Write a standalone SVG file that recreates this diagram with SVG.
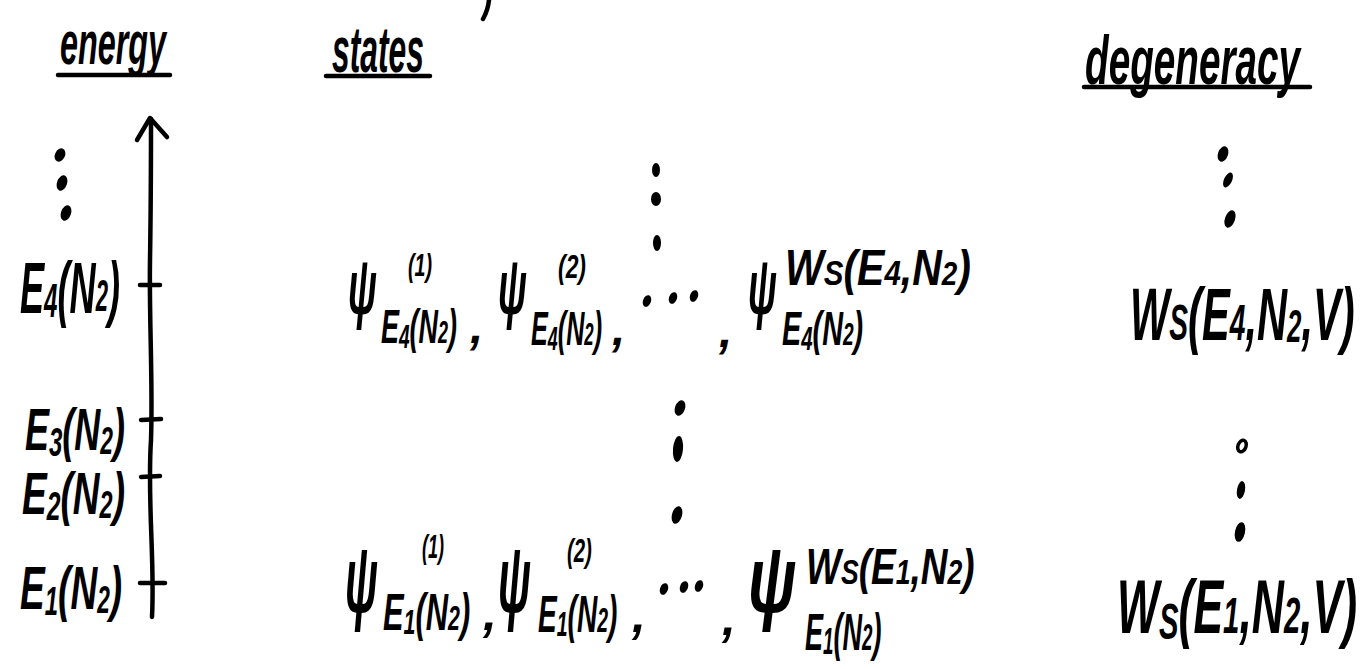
<svg xmlns="http://www.w3.org/2000/svg" width="1364" height="669" viewBox="0 0 1364 669">
<style>
.t{font-family:"Liberation Sans",Arial,sans-serif;font-style:italic;font-weight:bold;fill:#000}
.ln{stroke:#000;stroke-width:4.5;fill:none;stroke-linecap:round;stroke-linejoin:round}
.d{fill:#000}
</style>
<rect width="1364" height="669" fill="#fff"/>

<g id="fragment-top"><path class="ln" d="M489,0 Q488,10 483,19" stroke-width="3.5"/></g>

<g id="head-energy">
<text class="t" transform="translate(60,64) scale(0.522,1)" font-size="62">energy</text>
<line class="ln" x1="58" y1="75" x2="170" y2="75"/>
</g>
<g id="head-states">
<text class="t" transform="translate(332,72) scale(0.497,1)" font-size="64">states</text>
<line class="ln" x1="326" y1="76" x2="430" y2="76"/>
</g>
<g id="head-degeneracy">
<text class="t" transform="translate(1085,84) scale(0.569,1)" font-size="68">degeneracy</text>
<line class="ln" x1="1084" y1="87" x2="1310" y2="87"/>
</g>

<g id="connectors">
<path class="ln" d="M152,617 C155,560 147,500 151,440 C153,380 149,320 150,260 C151,200 151,160 151,119" stroke-width="5"/>
<polyline class="ln" points="137,140 150,118 167,137" stroke-width="5"/>
<line class="ln" x1="140" y1="285" x2="160" y2="285"/>
<line class="ln" x1="141" y1="420" x2="161" y2="419"/>
<line class="ln" x1="141" y1="477" x2="160" y2="476"/>
<line class="ln" x1="140" y1="583" x2="165" y2="583"/>
</g>

<g id="energy-dots">
<ellipse class="d" cx="60" cy="155" rx="5" ry="7" transform="rotate(25 60 155)"/>
<ellipse class="d" cx="62" cy="183" rx="5" ry="8" transform="rotate(20 62 183)"/>
<ellipse class="d" cx="66" cy="213" rx="5" ry="8" transform="rotate(20 66 213)"/>
</g>

<g id="label-E4">
<text class="t" transform="translate(20,313) scale(0.502,1)" font-size="72">E<tspan font-size="48" dy="4">4</tspan><tspan dy="-4">(N</tspan><tspan font-size="44" dy="-2">2</tspan><tspan dy="2">)</tspan></text>
</g>
<g id="label-E3">
<text class="t" transform="translate(25,450) scale(0.6,1)" font-size="60">E<tspan font-size="40" dy="6">3</tspan><tspan dy="-6">(N</tspan><tspan font-size="38" dy="4">2</tspan><tspan dy="-4">)</tspan></text>
</g>
<g id="label-E2">
<text class="t" transform="translate(22,514) scale(0.618,1)" font-size="60">E<tspan font-size="40" dy="6">2</tspan><tspan dy="-6">(N</tspan><tspan font-size="38" dy="4">2</tspan><tspan dy="-4">)</tspan></text>
</g>
<g id="label-E1">
<text class="t" transform="translate(20,609) scale(0.598,1)" font-size="62">E<tspan font-size="40" dy="6">1</tspan><tspan dy="-6">(N</tspan><tspan font-size="38" dy="4">2</tspan><tspan dy="-4">)</tspan></text>
</g>

<g id="states-dots-top">
<ellipse class="d" cx="656" cy="170" rx="4" ry="7"/>
<ellipse class="d" cx="656" cy="199" rx="5" ry="7"/>
<ellipse class="d" cx="657" cy="243" rx="4" ry="8"/>
</g>

<g id="state-E4-1">
<text class="t" transform="translate(348,314) scale(0.48,1)" font-size="78">ψ</text>
<text class="t" transform="translate(408,276) scale(0.614,1)" font-size="32">(1)</text>
<text class="t" transform="translate(381,343) scale(0.562,1)" font-size="48">E<tspan font-size="34" dy="5">4</tspan><tspan dy="-5">(N</tspan><tspan font-size="32">2</tspan>)</text>
<text class="t" x="470" y="343" font-size="48">,</text>
</g>
<g id="state-E4-2">
<text class="t" transform="translate(498,314) scale(0.48,1)" font-size="78">ψ</text>
<text class="t" transform="translate(558,278) scale(0.674,1)" font-size="34">(2)</text>
<text class="t" transform="translate(531,345) scale(0.525,1)" font-size="48">E<tspan font-size="34" dy="5">4</tspan><tspan dy="-5">(N</tspan><tspan font-size="32">2</tspan>)</text>
<text class="t" x="612" y="345" font-size="48">,</text>
</g>
<g id="state-E4-dots">
<ellipse class="d" cx="647" cy="301" rx="4" ry="6" transform="rotate(20 647 301)"/>
<ellipse class="d" cx="673" cy="298" rx="4" ry="6" transform="rotate(20 673 298)"/>
<ellipse class="d" cx="694" cy="296" rx="4" ry="6" transform="rotate(20 694 296)"/>
<text class="t" x="719" y="347" font-size="48">,</text>
</g>
<g id="state-E4-W">
<text class="t" transform="translate(748,314) scale(0.48,1)" font-size="78">ψ</text>
<text class="t" transform="translate(785,285) scale(0.82,1)" font-size="50">W<tspan font-size="36">S</tspan>(E<tspan font-size="36">4</tspan>,N<tspan font-size="34">2</tspan>)</text>
<text class="t" transform="translate(782,345) scale(0.6,1)" font-size="48">E<tspan font-size="34" dy="5">4</tspan><tspan dy="-5">(N</tspan><tspan font-size="32">2</tspan>)</text>
</g>

<g id="states-dots-mid">
<ellipse class="d" cx="680" cy="408" rx="5" ry="8" transform="rotate(20 680 408)"/>
<ellipse class="d" cx="678" cy="449" rx="5" ry="13" transform="rotate(5 678 449)"/>
<ellipse class="d" cx="677" cy="515" rx="5" ry="9" transform="rotate(15 677 515)"/>
</g>

<g id="state-E1-1">
<text class="t" transform="translate(345,612) scale(0.45,1)" font-size="95">ψ</text>
<text class="t" transform="translate(422,558) scale(0.53,1)" font-size="34">(1)</text>
<text class="t" transform="translate(383,630) scale(0.594,1)" font-size="52">E<tspan font-size="36" dy="4">1</tspan><tspan dy="-4">(N</tspan><tspan font-size="36">2</tspan>)</text>
<text class="t" x="483" y="630" font-size="50">,</text>
</g>
<g id="state-E1-2">
<text class="t" transform="translate(498,612) scale(0.45,1)" font-size="95">ψ</text>
<text class="t" transform="translate(567,562) scale(0.6,1)" font-size="34">(2)</text>
<text class="t" transform="translate(538,632) scale(0.54,1)" font-size="52">E<tspan font-size="36" dy="4">1</tspan><tspan dy="-4">(N</tspan><tspan font-size="36">2</tspan>)</text>
<text class="t" x="632" y="632" font-size="50">,</text>
</g>
<g id="state-E1-dots">
<ellipse class="d" cx="664" cy="589" rx="4" ry="6" transform="rotate(20 664 589)"/>
<ellipse class="d" cx="684" cy="587" rx="4" ry="6" transform="rotate(20 684 587)"/>
<ellipse class="d" cx="699" cy="586" rx="4" ry="6" transform="rotate(20 699 586)"/>
<text class="t" x="722" y="635" font-size="50">,</text>
</g>
<g id="state-E1-W">
<text class="t" transform="translate(748,612) scale(0.66,1)" font-size="95">ψ</text>
<text class="t" transform="translate(806,584) scale(0.74,1)" font-size="50">W<tspan font-size="36">S</tspan>(E<tspan font-size="36">1</tspan>,N<tspan font-size="36">2</tspan>)</text>
<text class="t" transform="translate(805,650) scale(0.52,1)" font-size="52">E<tspan font-size="36" dy="4">1</tspan><tspan dy="-4">(N</tspan><tspan font-size="36">2</tspan>)</text>
</g>

<g id="degeneracy-dots-top">
<ellipse class="d" cx="1223" cy="154" rx="5" ry="8" transform="rotate(20 1223 154)"/>
<ellipse class="d" cx="1228" cy="180" rx="4" ry="8" transform="rotate(25 1228 180)"/>
<ellipse class="d" cx="1230" cy="219" rx="5" ry="9" transform="rotate(20 1230 219)"/>
</g>
<g id="deg-E4">
<text class="t" transform="translate(1130,340) scale(0.563,1)" font-size="74">W<tspan font-size="50">S</tspan>(E<tspan font-size="50">4</tspan>,N<tspan font-size="46" dy="2">2</tspan><tspan dy="-2">,V)</tspan></text>
</g>
<g id="degeneracy-dots-bottom">
<ellipse cx="1242" cy="446" rx="4" ry="6" fill="none" stroke="#000" stroke-width="3.5" transform="rotate(20 1242 446)"/>
<ellipse class="d" cx="1241" cy="490" rx="4" ry="9" transform="rotate(10 1241 490)"/>
<ellipse class="d" cx="1240" cy="532" rx="5" ry="10" transform="rotate(12 1240 532)"/>
</g>
<g id="deg-E1">
<text class="t" transform="translate(1117,633) scale(0.586,1)" font-size="76">W<tspan font-size="50" dy="6">S</tspan><tspan dy="-6">(E</tspan><tspan font-size="50">1</tspan>,N<tspan font-size="50">2</tspan>,V)</text>
</g>
</svg>
